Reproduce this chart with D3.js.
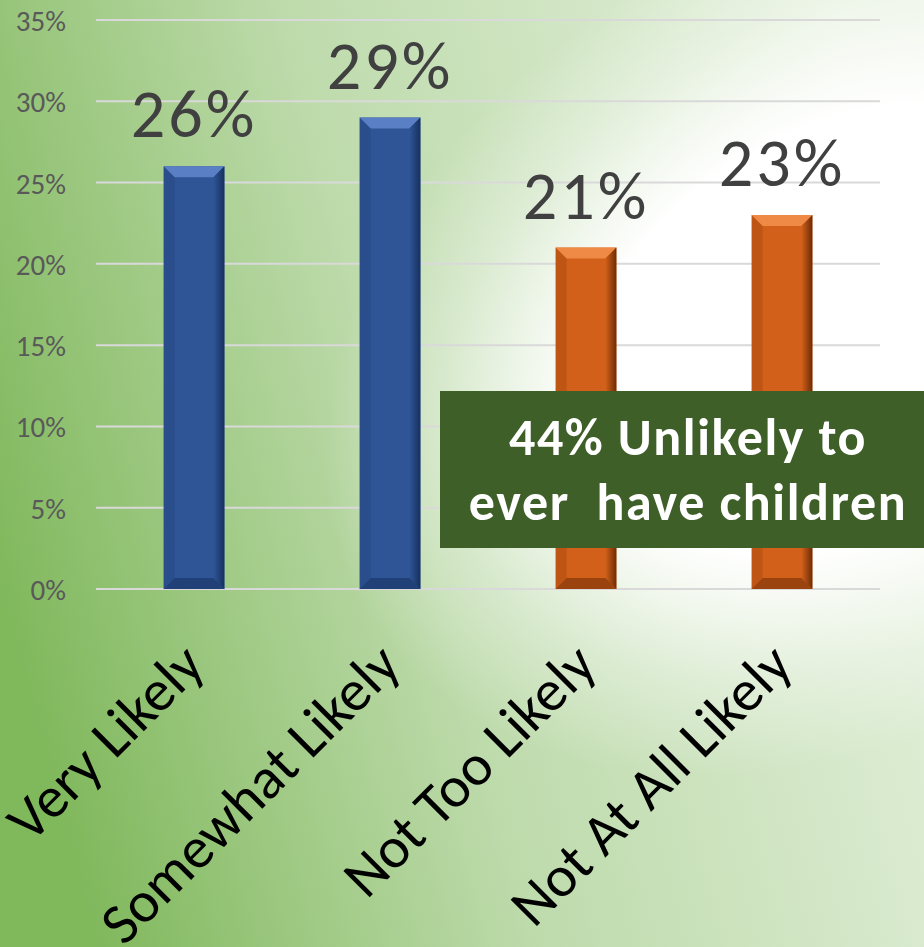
<!DOCTYPE html>
<html>
<head>
<meta charset="utf-8">
<script src="https://cdn.jsdelivr.net/npm/d3@7"></script>
<style>
  html, body { margin: 0; padding: 0; }
  body { width: 924px; height: 947px; overflow: hidden; }
</style>
</head>
<body>
<svg id="chart" width="924" height="947"></svg>
<script>
// Likelihood of ever having children
const categories = ["Very Likely", "Somewhat Likely", "Not Too Likely", "Not At All Likely"];
const shares = [26, 29, 21, 23];
const groups = ["likely", "likely", "unlikely", "unlikely"];
const yTicks = [0, 5, 10, 15, 20, 25, 30, 35];
const calloutLines = ["44% Unlikely to", "ever\u00a0 have children"];

const W = 924, H = 947;
const FONT = "Carlito, Lato, 'Open Sans', sans-serif";
const svg = d3.select("#chart");
const defs = svg.append("defs");

// Background: green on the left fading towards pale green on the right
const bg = defs.append("linearGradient").attr("id", "bg")
  .attr("gradientUnits", "userSpaceOnUse")
  .attr("x1", 0).attr("y1", 600).attr("x2", 924).attr("y2", 350);
bg.append("stop").attr("offset", 0).attr("stop-color", "#80b85c");
bg.append("stop").attr("offset", 0.45).attr("stop-color", "#bedbac");
bg.append("stop").attr("offset", 1).attr("stop-color", "#e4f0dc");
svg.append("rect").attr("width", W).attr("height", H).attr("fill", "url(#bg)");

// White glow over the right-hand side
const glow = defs.append("radialGradient").attr("id", "glow")
  .attr("gradientUnits", "userSpaceOnUse")
  .attr("cx", 850).attr("cy", 330).attr("r", 560)
  .attr("gradientTransform", "translate(850,330) rotate(-30) scale(1,0.72) translate(-850,-330)");
glow.append("stop").attr("offset", 0).attr("stop-color", "#ffffff").attr("stop-opacity", 1);
glow.append("stop").attr("offset", 0.5).attr("stop-color", "#ffffff").attr("stop-opacity", 1);
glow.append("stop").attr("offset", 0.78).attr("stop-color", "#ffffff").attr("stop-opacity", 0.35);
glow.append("stop").attr("offset", 1).attr("stop-color", "#ffffff").attr("stop-opacity", 0);
svg.append("rect").attr("width", W).attr("height", H).attr("fill", "url(#glow)");

const x = d3.scaleBand().domain(categories).range([96, 880]).paddingInner(0.69).paddingOuter(0.345);
const y = d3.scaleLinear().domain([0, 35]).range([589, 20]);

// Gridlines
svg.append("g").selectAll("line").data(yTicks).join("line")
  .attr("x1", 96).attr("x2", 880)
  .attr("y1", d => y(d)).attr("y2", d => y(d))
  .attr("stroke", "#d9d9d9").attr("stroke-width", 2);

// Y axis labels
const yAxis = d3.axisLeft(y).tickValues(yTicks).tickFormat(d => d + "%").tickSize(0).tickPadding(0);
const ya = svg.append("g").attr("transform", "translate(66,0)").call(yAxis);
ya.select(".domain").remove();
ya.selectAll("text")
  .attr("font-family", FONT)
  .attr("font-size", 29).attr("fill", "#595959").attr("dy", "0.36em");

// Bars with a bevelled look
const palette = {
  likely:   { base: "#2f5597", light: "#5a7fc4", dark: "#17305e" },
  unlikely: { base: "#d2601a", light: "#ee8a45", dark: "#6e2c06" }
};
const rows = categories.map((c, i) => ({ cat: c, v: shares[i], g: groups[i] }));
const bev = 11;

rows.forEach((r, i) => {
  const col = palette[r.g];
  const x0 = x(r.cat), w = x.bandwidth(), x1 = x0 + w;
  const y0 = y(r.v), y1 = y(0);
  const gb = svg.append("g");

  const sideGrad = defs.append("linearGradient").attr("id", "side" + i)
    .attr("x1", 0).attr("x2", 1).attr("y1", 0).attr("y2", 0);
  sideGrad.append("stop").attr("offset", 0).attr("stop-color", col.base);
  sideGrad.append("stop").attr("offset", 1).attr("stop-color", col.dark);

  gb.append("rect").attr("x", x0).attr("y", y0).attr("width", w).attr("height", y1 - y0)
    .attr("fill", col.base);
  // top bevel
  gb.append("path").attr("d", `M${x0},${y0}L${x1},${y0}L${x1 - bev},${y0 + bev}L${x0 + bev},${y0 + bev}Z`)
    .attr("fill", col.light);
  // right bevel
  gb.append("path").attr("d", `M${x1},${y0}L${x1},${y1}L${x1 - bev},${y1 - bev}L${x1 - bev},${y0 + bev}Z`)
    .attr("fill", `url(#side${i})`);
  // bottom bevel
  gb.append("path").attr("d", `M${x0},${y1}L${x1},${y1}L${x1 - bev},${y1 - bev}L${x0 + bev},${y1 - bev}Z`)
    .attr("fill", col.dark).attr("opacity", 0.55);
  // left bevel
  gb.append("path").attr("d", `M${x0},${y0}L${x0 + bev},${y0 + bev}L${x0 + bev},${y1 - bev}L${x0},${y1}Z`)
    .attr("fill", col.dark).attr("opacity", 0.2);

  // value label
  svg.append("text")
    .attr("x", x0 + w / 2).attr("y", y0 - 29)
    .attr("text-anchor", "middle")
    .attr("font-family", FONT)
    .attr("font-size", 68).attr("letter-spacing", 3).attr("fill", "#404040")
    .text(r.v + "%");
});

// Category labels, rotated
svg.append("g").selectAll("text").data(categories).join("text")
  .attr("transform", d => `translate(${x(d) + x.bandwidth() / 2 + 13},${668}) rotate(-45)`)
  .attr("text-anchor", "end")
  .attr("font-family", FONT)
  .attr("font-size", 58).attr("fill", "#000")
  .text(d => d);

// Callout box
svg.append("rect").attr("x", 440).attr("y", 391).attr("width", 484).attr("height", 157)
  .attr("fill", "#3f5f29");
svg.append("g").selectAll("text").data(calloutLines).join("text")
  .attr("x", 688).attr("y", (d, i) => 455 + i * 65)
  .attr("text-anchor", "middle")
  .attr("font-family", FONT)
  .attr("font-weight", "bold").attr("font-size", 52).attr("letter-spacing", 1.6).attr("fill", "#fff")
  .text(d => d);
</script>
</body>
</html>
